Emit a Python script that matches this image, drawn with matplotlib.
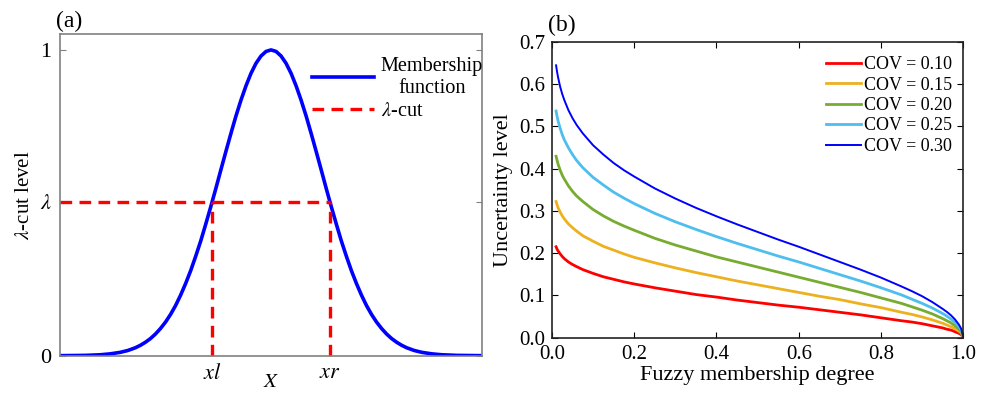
import matplotlib
matplotlib.use("Agg")
import matplotlib.pyplot as plt

plt.rcParams['font.family'] = ['Liberation Serif', 'DejaVu Serif']
plt.rcParams['mathtext.fontset'] = 'stix'

# (a) membership function, right half (curve is symmetric)
x_half = [0.0, 0.1, 0.2, 0.3, 0.4, 0.5, 0.6, 0.7, 0.8, 0.9, 1.0, 1.1, 1.2, 1.3, 1.4, 1.5, 1.6,
          1.7, 1.8, 1.9, 2.0, 2.1, 2.2, 2.3, 2.4, 2.5, 2.6, 2.7, 2.85, 3.0, 3.2, 3.4, 3.7, 4.2]
y_half = [1.0, 0.995, 0.980, 0.956, 0.923, 0.882, 0.835, 0.783, 0.726, 0.667, 0.607, 0.546, 0.487,
          0.430, 0.375, 0.325, 0.278, 0.236, 0.198, 0.164, 0.135, 0.110, 0.089, 0.071, 0.056, 0.044,
          0.034, 0.026, 0.017, 0.011, 0.006, 0.003, 0.001, 0.0001]
x_mf = [-v for v in reversed(x_half)] + x_half[1:]
y_mf = list(reversed(y_half)) + y_half[1:]
lam = 0.502
x_left = -1.174
x_right = 1.174

# (b) uncertainty level vs fuzzy membership degree
deg = [0.01, 0.0125, 0.015, 0.02, 0.025, 0.03, 0.04, 0.05, 0.06, 0.075, 0.1, 0.125, 0.15, 0.175,
       0.2, 0.25, 0.3, 0.35, 0.4, 0.45, 0.5, 0.55, 0.6, 0.65, 0.7, 0.75, 0.8, 0.85, 0.875, 0.9,
       0.925, 0.95, 0.96, 0.97, 0.98, 0.99, 0.995, 1.0]
cov010 = [0.215, 0.209, 0.205, 0.198, 0.192, 0.187, 0.179, 0.173, 0.168, 0.161, 0.152, 0.144, 0.138, 0.132,
          0.127, 0.118, 0.110, 0.102, 0.096, 0.089, 0.083, 0.077, 0.072, 0.066, 0.060, 0.054, 0.047, 0.040,
          0.037, 0.033, 0.028, 0.023, 0.020, 0.018, 0.014, 0.010, 0.007, 0.0]
cov015 = [0.322, 0.314, 0.307, 0.297, 0.288, 0.281, 0.269, 0.260, 0.252, 0.241, 0.228, 0.216, 0.207, 0.198,
          0.190, 0.177, 0.165, 0.154, 0.144, 0.134, 0.125, 0.116, 0.107, 0.098, 0.090, 0.080, 0.071, 0.060,
          0.055, 0.049, 0.042, 0.034, 0.030, 0.026, 0.021, 0.015, 0.011, 0.0]
cov020 = [0.429, 0.419, 0.410, 0.396, 0.384, 0.375, 0.359, 0.346, 0.335, 0.322, 0.303, 0.288, 0.275, 0.264,
          0.254, 0.235, 0.219, 0.205, 0.191, 0.179, 0.167, 0.155, 0.143, 0.131, 0.119, 0.107, 0.094, 0.081,
          0.073, 0.065, 0.056, 0.045, 0.040, 0.035, 0.028, 0.020, 0.014, 0.0]
cov025 = [0.536, 0.523, 0.512, 0.495, 0.480, 0.468, 0.449, 0.433, 0.419, 0.402, 0.379, 0.361, 0.344, 0.330,
          0.317, 0.294, 0.274, 0.256, 0.239, 0.223, 0.208, 0.193, 0.179, 0.164, 0.149, 0.134, 0.118, 0.101,
          0.091, 0.081, 0.070, 0.057, 0.051, 0.044, 0.036, 0.025, 0.018, 0.0]
cov030 = [0.644, 0.628, 0.615, 0.593, 0.576, 0.562, 0.538, 0.519, 0.503, 0.483, 0.455, 0.433, 0.413, 0.396,
          0.381, 0.353, 0.329, 0.307, 0.287, 0.268, 0.250, 0.232, 0.215, 0.197, 0.179, 0.161, 0.142, 0.121,
          0.110, 0.098, 0.084, 0.068, 0.061, 0.053, 0.043, 0.030, 0.021, 0.0]
cov_labels = ['COV = 0.10', 'COV = 0.15', 'COV = 0.20', 'COV = 0.25', 'COV = 0.30']
cov_colors = ['#FF0000', '#EDB120', '#77AC30', '#4DBEEE', '#0000FF']
cov_widths = [2.0, 2.0, 2.0, 2.0, 1.4]

fig = plt.figure(figsize=(9.89, 3.96), dpi=100)

# ---- panel (a)
ax1 = fig.add_axes([0.0607, 0.1018, 0.4267, 0.8123])
ax1.plot(x_mf, y_mf, color='#0000FF', lw=2.6, label='Membership\nfunction')
ax1.plot([x_mf[0], x_right], [lam, lam], color='#FF0000', lw=2.4, dashes=(3.5, 2.2), label=r'$\lambda$-cut')
ax1.plot([x_left, x_left], [0, lam], color='#FF0000', lw=2.4, dashes=(3.5, 2.2))
ax1.plot([x_right, x_right], [0, lam], color='#FF0000', lw=2.4, dashes=(3.5, 2.2))
ax1.set_xlim(-4.2, 4.2)
ax1.set_ylim(0, 1.052)
ax1.set_yticks([0, lam, 1])
ax1.set_yticklabels(['0', r'$\lambda$', '1'])
ax1.set_xticks([x_left, x_right])
ax1.set_xticklabels([r'$xl$', r'$xr$'])
ax1.tick_params(direction='in', length=4, labelsize=16, color='#808080', right=True, top=False, pad=6)
for sp in ax1.spines.values():
    sp.set_color('#808080')
    sp.set_linewidth(1.2)
ax1.set_ylabel(r'$\lambda$-cut level', fontsize=15, labelpad=4)
ax1.set_xlabel(r'$X$', fontsize=15, labelpad=-8)
leg1 = ax1.legend(loc='upper right', bbox_to_anchor=(1.045, 0.985), frameon=False, fontsize=14.6,
                  handlelength=3.1, handletextpad=0.3, labelspacing=0.2)
for t in leg1.get_texts():
    t.set_multialignment('center')
ax1.text(-0.01, 1.005, '(a)', transform=ax1.transAxes, fontsize=17, ha='left', va='bottom')

# ---- panel (b)
ax2 = fig.add_axes([0.5581, 0.1473, 0.4159, 0.7475])
series = [cov010, cov015, cov020, cov025, cov030]
for s, lab, c, w in zip(series, cov_labels, cov_colors, cov_widths):
    ax2.plot(deg, s, color=c, lw=w, label=lab)
ax2.set_xlim(0, 1)
ax2.set_ylim(0, 0.7)
ax2.set_xticks([0, 0.2, 0.4, 0.6, 0.8, 1.0])
ax2.set_yticks([0, 0.1, 0.2, 0.3, 0.4, 0.5, 0.6, 0.7])
ax2.xaxis.set_major_formatter(matplotlib.ticker.FormatStrFormatter('%.1f'))
ax2.yaxis.set_major_formatter(matplotlib.ticker.FormatStrFormatter('%.1f'))
ax2.tick_params(direction='in', length=4, labelsize=15, top=True, right=True, pad=5)
for sp in ax2.spines.values():
    sp.set_color('#222222')
    sp.set_linewidth(1.2)
ax2.set_xlabel('Fuzzy membership degree', fontsize=16, labelpad=2)
ax2.set_ylabel('Uncertainty level', fontsize=16, labelpad=4)
ax2.legend(loc='upper right', bbox_to_anchor=(1.012, 1.006), frameon=False, fontsize=13,
           handlelength=1.95, handletextpad=0.15, labelspacing=0.19)
ax2.text(-0.01, 1.02, '(b)', transform=ax2.transAxes, fontsize=17, ha='left', va='bottom')

fig.savefig('out.png', dpi=100)
